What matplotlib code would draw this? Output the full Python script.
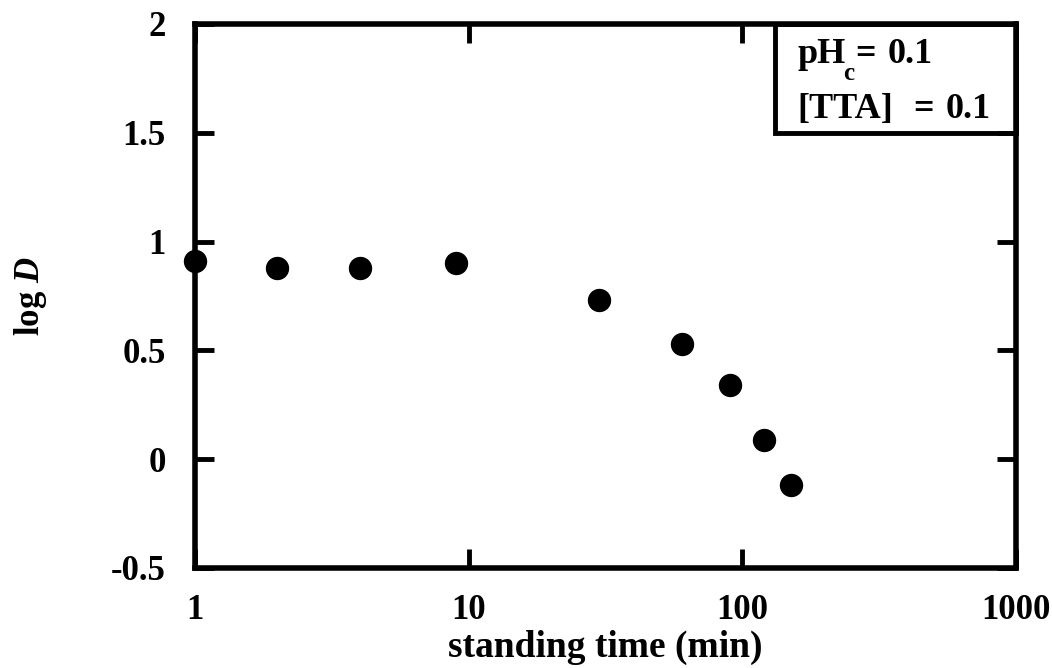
import matplotlib.pyplot as plt
from matplotlib.patches import Rectangle

plt.rcParams['font.family'] = ['Liberation Serif', 'DejaVu Serif']
plt.rcParams['font.weight'] = 'bold'
plt.rcParams['mathtext.fontset'] = 'custom'
plt.rcParams['mathtext.it'] = 'Liberation Serif:italic:bold'
plt.rcParams['mathtext.rm'] = 'Liberation Serif:bold'
plt.rcParams['mathtext.bf'] = 'Liberation Serif:bold'

# standing time (min) vs log D
standing_time = [1, 2, 4, 9, 30, 60, 90, 120, 150]
log_d = [0.91, 0.88, 0.88, 0.90, 0.73, 0.53, 0.34, 0.09, -0.12]

x_ticks = [1, 10, 100, 1000]
x_ticklabels = ['1', '10', '100', '1000']
y_ticks = [-0.5, 0, 0.5, 1, 1.5, 2]
y_ticklabels = ['-0.5', '0', '0.5', '1', '1.5', '2']

W, H = 1052, 668
fig = plt.figure(figsize=(W / 100, H / 100), dpi=100)
ax = fig.add_axes([195 / W, 1 - 568 / H, (1016 - 195) / W, (568 - 24) / H])

ax.scatter(standing_time, log_d, s=250, color='black', zorder=3, clip_on=False)

ax.set_xscale('log')
ax.set_xlim(1, 1000)
ax.set_ylim(-0.5, 2)
ax.set_xticks(x_ticks)
ax.set_xticklabels(x_ticklabels)
ax.set_yticks(y_ticks)
ax.set_yticklabels(y_ticklabels)
ax.minorticks_off()
ax.tick_params(direction='in', length=14, width=3.5, labelsize=25,
               top=True, right=True)
ax.tick_params(axis='x', pad=19)
ax.tick_params(axis='y', pad=21)
for s in ax.spines.values():
    s.set_linewidth(4)

ax.set_xlabel('standing time (min)', fontsize=27, fontweight='bold', labelpad=2)
ax.set_ylabel(r'log $D$', fontsize=25, fontweight='bold')
ax.yaxis.set_label_coords(49 / W, 1 - 296 / H, transform=fig.transFigure)

# condition box in the upper right corner
box = Rectangle((775 / W, 1 - 133 / H), (1016 - 775) / W, (133 - 24) / H,
                transform=fig.transFigure, fill=False, lw=3.5, edgecolor='black', zorder=5)
fig.patches.append(box)


def put(x, y, s, size=26):
    fig.text(x / W, 1 - y / H, s, fontsize=size, fontweight='bold', va='baseline')


put(797, 63, 'pH')
put(843, 80, 'c', size=18)
put(855, 63, '=')
put(888, 63, '0.1')
put(797, 118, '[TTA]')
put(913, 118, '=')
put(946, 118, '0.1')

fig.savefig('out.png', dpi=100)
